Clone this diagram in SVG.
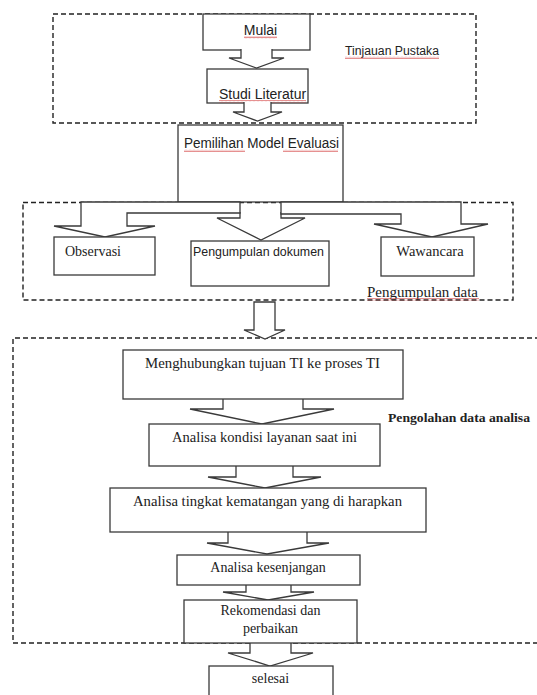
<svg xmlns="http://www.w3.org/2000/svg" width="537" height="695" viewBox="0 0 537 695">
<defs>
<pattern id="wave" width="4" height="3" patternUnits="userSpaceOnUse">
<path d="M0,2.2 L1,0.6 L2,2.2 L3,0.6 L4,2.2" stroke="#d23a3a" stroke-width="0.8" fill="none"/>
</pattern>
</defs>
<style>
.box{fill:#fff;stroke:#3a3a3a;stroke-width:1.3}
.arr{fill:#fff;stroke:#3a3a3a;stroke-width:1.3;stroke-linejoin:miter}
.dash{fill:none;stroke:#222;stroke-width:1.4;stroke-dasharray:5 3}
.sans{font-family:"Liberation Sans",Arial,sans-serif;fill:#222}
.serif{font-family:"Liberation Serif","Times New Roman",serif;fill:#222}
.wv{fill:url(#wave);opacity:0.75}
</style>
<rect width="537" height="695" fill="#fff"/>

<g id="groups">
<rect class="dash" x="53" y="14" width="423" height="109"/>
<rect class="dash" x="23" y="202.5" width="490" height="97.5"/>
<path class="dash" d="M540,338 H13 V643 H540"/>
</g>

<g id="mulai">
<rect class="box" x="203" y="14" width="107" height="36"/>
<text class="sans" x="260.5" y="35" font-size="14" text-anchor="middle">Mulai</text>
<rect class="wv" x="244" y="36" width="33" height="3"/>
</g>
<g id="studi">
<rect class="box" x="207" y="69" width="101" height="34"/>
<text class="sans" x="219" y="99" font-size="14">Studi Literatur</text>
<rect class="wv" x="219" y="100" width="87" height="3"/>
</g>
<g id="tinjauan">
<text class="sans" x="345" y="55" font-size="12" textLength="94" lengthAdjust="spacingAndGlyphs">Tinjauan Pustaka</text>
<rect class="wv" x="345" y="56" width="94" height="3"/>
</g>
<g id="pemilihan">
<rect class="box" x="178" y="125" width="165" height="77"/>
<text class="sans" x="184" y="148" font-size="14" textLength="155" lengthAdjust="spacingAndGlyphs">Pemilihan Model Evaluasi</text>
<rect class="wv" x="184" y="149" width="61" height="3"/>
<rect class="wv" x="283" y="149" width="55" height="3"/>
</g>

<g id="connectors">
<path class="arr" d="M241,49 V58 H229 L256.5,68 L284,58 H272 V49"/>
<path class="arr" d="M244,102 V112 H233 L257.5,121 L282,112 H271 V102"/>
<path class="arr" d="M240,212 V218 H217 L261,240 L305,218 H281 V212"/>
<path class="arr" d="M240,202 H81 V226 H54 L105,237 L155,226 H127 V213 H240 Z"/>
<path class="arr" d="M281,202 H461 V224 H488 L432,237 L374,224 H401 V214 H281 Z"/>
<path class="arr" d="M254,302 H275 V330 H285 L265,339 L244,330 H254 Z"/>
<path class="arr" d="M223,398 V409 H190 L262,424 L334,409 H303 V398"/>
<path class="arr" d="M236,465 V477 H208 L265,488 L321,477 H293 V465"/>
<path class="arr" d="M228,531 V543 H207 L267,554 L329,543 H307 V531"/>
<path class="arr" d="M246,584 V592 H223 L268,600 L314,592 H291 V584"/>
<path class="arr" d="M250,642 V653 H228 L270,666 L313,653 H291 V642"/>
</g>

<g id="observasi">
<rect class="box" x="54" y="237" width="101" height="38"/>
<text class="serif" x="65" y="256" font-size="14">Observasi</text>
</g>
<g id="dokumen">
<rect class="box" x="191" y="241" width="138" height="45"/>
<text class="sans" x="193" y="256" font-size="12.5" textLength="131" lengthAdjust="spacingAndGlyphs">Pengumpulan dokumen</text>
</g>
<g id="wawancara">
<rect class="box" x="381" y="237" width="93" height="39"/>
<text class="serif" x="430" y="256" font-size="14.5" text-anchor="middle">Wawancara</text>
</g>
<g id="pengumpulan-data">
<text class="serif" x="367" y="297" font-size="14" textLength="111" lengthAdjust="spacingAndGlyphs">Pengumpulan data</text>
<rect class="wv" x="367" y="298" width="112" height="3"/>
</g>

<g id="menghubungkan">
<rect class="box" x="123" y="350" width="280" height="49"/>
<text class="serif" x="262.5" y="368" font-size="14" text-anchor="middle" textLength="235" lengthAdjust="spacingAndGlyphs">Menghubungkan tujuan TI ke proses TI</text>
</g>
<g id="pengolahan">
<text class="serif" x="388" y="422" font-size="13" font-weight="bold" textLength="142" lengthAdjust="spacingAndGlyphs">Pengolahan data analisa</text>
</g>
<g id="kondisi">
<rect class="box" x="149" y="424" width="231" height="42"/>
<text class="serif" x="264.5" y="442" font-size="14" text-anchor="middle" textLength="185" lengthAdjust="spacingAndGlyphs">Analisa kondisi layanan saat ini</text>
</g>
<g id="tingkat">
<rect class="box" x="110" y="488" width="316" height="44"/>
<text class="serif" x="267.5" y="506" font-size="14" text-anchor="middle" textLength="269" lengthAdjust="spacingAndGlyphs">Analisa tingkat kematangan yang di harapkan</text>
</g>
<g id="kesenjangan">
<rect class="box" x="177" y="555" width="183" height="30"/>
<text class="serif" x="268" y="572" font-size="14" text-anchor="middle">Analisa kesenjangan</text>
</g>
<g id="rekomendasi">
<rect class="box" x="184" y="600" width="173" height="43"/>
<text class="serif" x="270.5" y="615" font-size="14" text-anchor="middle">Rekomendasi dan</text>
<text class="serif" x="270.5" y="633" font-size="14" text-anchor="middle">perbaikan</text>
</g>
<g id="selesai">
<rect class="box" x="209" y="666" width="124" height="34"/>
<text class="serif" x="270.5" y="683" font-size="14" text-anchor="middle">selesai</text>
</g>
</svg>
